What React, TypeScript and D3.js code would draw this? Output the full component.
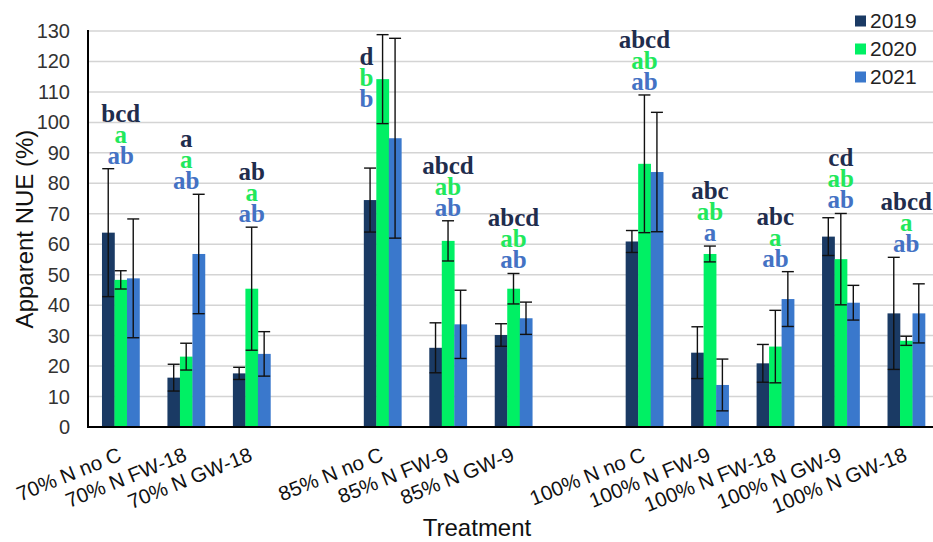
import React from 'react'
import * as d3 from 'd3'

const treatments = [
    '70% N no C', '70% N FW-18', '70% N GW-18',
    '85% N no C', '85% N FW-9', '85% N GW-9',
    '100% N no C', '100% N FW-9', '100% N FW-18', '100% N GW-9', '100% N GW-18'
]
const years = ['2019', '2020', '2021']

const nue2019 = [63.8, 16.2, 17.6, 74.5, 26.0, 30.2, 60.9, 24.4, 20.9, 62.5, 37.3]
const nue2020 = [48.3, 23.1, 45.4, 114.2, 61.1, 45.4, 86.4, 56.8, 26.4, 55.1, 28.3]
const nue2021 = [48.8, 56.8, 24.0, 94.8, 33.7, 35.7, 83.7, 13.8, 42.0, 40.8, 37.3]

const err2019 = [21.0, 4.4, 2.0, 10.5, 8.2, 3.7, 3.6, 8.5, 6.2, 6.2, 18.4]
const err2020 = [3.0, 4.4, 20.2, 14.6, 6.6, 5.0, 22.6, 2.6, 11.9, 15.0, 1.5]
const err2021 = [19.5, 19.6, 7.3, 32.8, 11.2, 5.3, 19.6, 8.5, 9.0, 5.7, 9.7]

const letters2019 = ['bcd', 'a', 'ab', 'd', 'abcd', 'abcd', 'abcd', 'abc', 'abc', 'cd', 'abcd']
const letters2020 = ['a', 'a', 'a', 'b', 'ab', 'ab', 'ab', 'ab', 'a', 'ab', 'a']
const letters2021 = ['ab', 'ab', 'ab', 'b', 'ab', 'ab', 'ab', 'a', 'ab', 'ab', 'ab']

const yTicks = [0, 10, 20, 30, 40, 50, 60, 70, 80, 90, 100, 110, 120, 130]

const values = [nue2019, nue2020, nue2021]
const errors = [err2019, err2020, err2021]
const letters = [letters2019, letters2020, letters2021]

const barColors = ['#1a3a64', '#00f064', '#3a78cc']
const letterColors = ['#1f2d4d', '#22e85c', '#4472c4']

// empty slots between the three N levels
const slots = [...treatments.slice(0, 3), 'gap1', ...treatments.slice(3, 6), 'gap2', ...treatments.slice(6)]

// the 85% no C letters sit beside its tall bars rather than above them
const labelOverride: Record<string, { top: number, dx: number }> = {
    '85% N no C': { top: 103.5, dx: -16 }
}

const width = 933
const height = 542
const left = 88
const bottom = 427
const top = 31

function App() {
    const x = d3.scaleBand()
        .domain(slots)
        .range([left, 939])
        .paddingInner(0.427)
        .paddingOuter(0.2135)

    const xYear = d3.scaleBand()
        .domain(years)
        .range([0, x.bandwidth()])

    const y = d3.scaleLinear()
        .domain([0, 130])
        .range([bottom, top])

    const font = '"Liberation Sans", Arial, sans-serif'
    const serif = '"Liberation Serif", "Times New Roman", serif'

    return (
        <svg width={width} height={height} style={{ position: 'absolute', left: 0, top: 0 }}>
            <rect width={width} height={height} fill='white' />

            {yTicks.map((t) => (
                <g key={t}>
                    {t > 0 && <line x1={left} x2={width} y1={y(t)} y2={y(t)} stroke='#d4d4d4' strokeWidth={1.5} />}
                    <text x={70} y={y(t)} dy='0.35em' textAnchor='end' fontFamily={font} fontSize={20} fill='#333'>{t}</text>
                </g>
            ))}

            {treatments.map((tr, i) => {
                const gx = x(tr)!
                return (
                    <g key={tr}>
                        {years.map((yr, k) => {
                            const v = values[k][i]
                            const e = errors[k][i]
                            const bx = gx + xYear(yr)!
                            const cx = bx + xYear.bandwidth() / 2
                            return (
                                <g key={yr}>
                                    <rect x={bx} y={y(v)} width={xYear.bandwidth() + 0.3} height={bottom - y(v)} fill={barColors[k]} />
                                    <g stroke='#111' strokeWidth={1.4}>
                                        <line x1={cx} x2={cx} y1={y(v + e)} y2={y(Math.max(0, v - e))} />
                                        <line x1={cx - 6} x2={cx + 6} y1={y(v + e)} y2={y(v + e)} />
                                        <line x1={cx - 6} x2={cx + 6} y1={y(v - e)} y2={y(v - e)} />
                                    </g>
                                </g>
                            )
                        })}
                    </g>
                )
            })}

            {treatments.map((tr, i) => {
                const cx = x(tr)! + x.bandwidth() / 2
                const maxTop = d3.max(values.map((s, k) => s[i] + errors[k][i]))!
                const ov = labelOverride[tr]
                const base = y(ov ? ov.top : maxTop) - 5
                const lx = cx + (ov ? ov.dx : 0)
                return (
                    <g key={tr}>
                        {letters.map((l, k) => (
                            <text key={k} x={lx} y={base - (2 - k) * 21} textAnchor='middle'
                                fontFamily={serif} fontWeight='bold' fontSize={25} fill={letterColors[k]}>{l[i]}</text>
                        ))}
                    </g>
                )
            })}

            <line x1={left} x2={left} y1={top - 1} y2={bottom + 1} stroke='#000' strokeWidth={2} />
            <line x1={left - 1} x2={width} y1={bottom} y2={bottom} stroke='#000' strokeWidth={2} />

            {treatments.map((tr) => {
                const cx = x(tr)! + x.bandwidth() / 2 + 2
                return (
                    <text key={tr} transform={`translate(${cx},460) rotate(-22)`} textAnchor='end'
                        fontFamily={font} fontSize={20.5} fill='#111'>{tr}</text>
                )
            })}

            <text x={477} y={536} textAnchor='middle' fontFamily={font} fontSize={24} fill='#111'>Treatment</text>
            <text transform='translate(33,229) rotate(-90)' textAnchor='middle' fontFamily={font} fontSize={24} fill='#111'>Apparent NUE (%)</text>

            {years.map((yr, k) => (
                <g key={yr} transform={`translate(855,${21 + k * 28})`}>
                    <rect x={0} y={-5.5} width={11} height={11} fill={barColors[k]} />
                    <text x={15} y={0} dy='0.35em' fontFamily={font} fontSize={21} fill='#222'>{yr}</text>
                </g>
            ))}
        </svg>
    )
}

export default App
